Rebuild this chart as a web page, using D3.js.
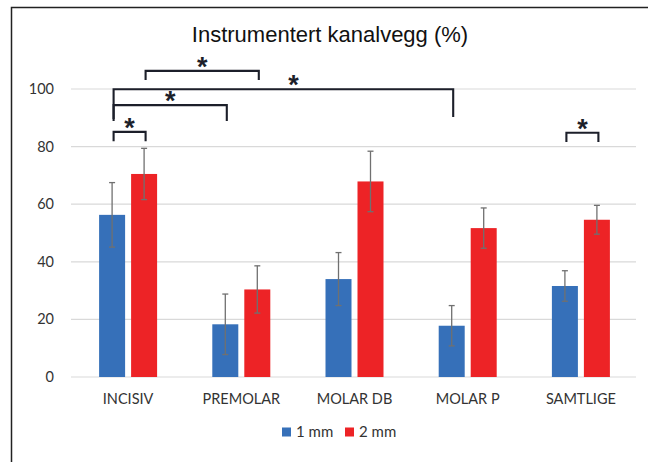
<!DOCTYPE html>
<html>
<head>
<meta charset="utf-8">
<title>Instrumentert kanalvegg</title>
<style>
  body { margin: 0; background: #fff; }
  svg { display: block; }
</style>
</head>
<body>
<svg id="chart" xmlns="http://www.w3.org/2000/svg"></svg>
<script src="https://cdn.jsdelivr.net/npm/d3@7"></script>
<script>
// data
const categories = ["INCISIV", "PREMOLAR", "MOLAR DB", "MOLAR P", "SAMTLIGE"];
const seriesNames = ["1 mm", "2 mm"];
const values1mm = [56.3, 18.3, 34.0, 17.8, 31.6];
const values2mm = [70.5, 30.4, 67.9, 51.7, 54.6];
const err1mm = [11.2, 10.5, 9.2, 7.0, 5.3];
const err2mm = [8.9, 8.2, 10.5, 7.0, 5.0];
const yTicks = [0, 20, 40, 60, 80, 100];
// significance brackets: [category, series] pairs, top level and leg ends in data units
const brackets = [
  { a: [0, 0], b: [0, 1], top: 85.1, legA: 81.9, legB: 81.9 },
  { a: [0, 0], b: [1, 0], top: 94.4, legA: 88.9, legB: 88.9 },
  { a: [0, 0], b: [3, 0], top: 99.9, legA: 89.6, legB: 90.3, starX: 0.53 },
  { a: [0, 1], b: [1, 1], top: 106.3, legA: 103.1, legB: 103.1 },
  { a: [4, 0], b: [4, 1], top: 84.8, legA: 81.6, legB: 81.6 }
];

const width = 648, height = 462;
const colors = ["#3670b9", "#ed2326"];
const font = "Lato, 'Open Sans', sans-serif";

const svg = d3.select("#chart")
    .attr("width", width)
    .attr("height", height);

svg.append("rect")
    .attr("width", width).attr("height", height).attr("fill", "#fff");

// outer frame (runs off the right and bottom edge)
svg.append("path")
    .attr("d", `M11.5,${height + 2}V7.5H${width + 2}`)
    .attr("fill", "none")
    .attr("stroke", "#222")
    .attr("stroke-width", 1.5);

const x0 = d3.scaleBand().domain(categories).range([71.5, 637.5]);
const x1 = d3.scaleBand().domain(seriesNames).range([-29, 29]).paddingInner(0.1875);
const y = d3.scaleLinear().domain([0, 100]).range([377, 89]);

const data = categories.map((c, i) => ({
  cat: c,
  vals: [
    { s: seriesNames[0], v: values1mm[i], e: err1mm[i] },
    { s: seriesNames[1], v: values2mm[i], e: err2mm[i] }
  ]
}));

// grid
svg.append("g")
  .selectAll("line")
  .data(yTicks)
  .join("line")
    .attr("x1", 71).attr("x2", 636)
    .attr("y1", d => y(d)).attr("y2", d => y(d))
    .attr("stroke", "#d9d9d9")
    .attr("stroke-width", 1.2);

// y labels
svg.append("g")
  .selectAll("text")
  .data(yTicks)
  .join("text")
    .attr("x", 54)
    .attr("y", d => y(d))
    .attr("dy", "0.35em")
    .attr("text-anchor", "end")
    .style("font", `14.5px ${font}`)
    .attr("fill", "#333")
    .text(d => d);

// bracket legs sit slightly right of the bar centres
const cx = (ci, si) => x0.bandwidth() / 2 + x0(categories[ci]) + x1(seriesNames[si]) + x1.bandwidth() / 2 + 1.5;

// bars
const group = svg.append("g")
  .selectAll("g")
  .data(data)
  .join("g")
    .attr("transform", d => `translate(${x0(d.cat) + x0.bandwidth() / 2},0)`);

group.selectAll("rect")
  .data(d => d.vals)
  .join("rect")
    .attr("x", d => x1(d.s))
    .attr("y", d => y(d.v))
    .attr("width", x1.bandwidth())
    .attr("height", d => y(0) - y(d.v))
    .attr("fill", (d, i) => colors[i]);

// error bars
const eb = group.selectAll("g.err")
  .data(d => d.vals)
  .join("g")
    .attr("class", "err")
    .attr("stroke", "#707070")
    .attr("stroke-width", 1.3);
eb.append("line")
    .attr("x1", d => x1(d.s) + x1.bandwidth() / 2)
    .attr("x2", d => x1(d.s) + x1.bandwidth() / 2)
    .attr("y1", d => y(d.v + d.e))
    .attr("y2", d => y(d.v - d.e));
[1, -1].forEach(sign => {
  eb.append("line")
      .attr("x1", d => x1(d.s) + x1.bandwidth() / 2 - 3)
      .attr("x2", d => x1(d.s) + x1.bandwidth() / 2 + 3)
      .attr("y1", d => y(d.v + sign * d.e))
      .attr("y2", d => y(d.v + sign * d.e));
});

// category labels
svg.append("g")
  .selectAll("text")
  .data(categories)
  .join("text")
    .attr("x", d => x0(d) + x0.bandwidth() / 2)
    .attr("y", 404)
    .attr("text-anchor", "middle")
    .style("font", `14.5px ${font}`)
    .attr("fill", "#333")
    .text(d => d);

// significance brackets
const br = svg.append("g")
  .selectAll("g")
  .data(brackets)
  .join("g");
br.append("path")
    .attr("d", d => {
      const xa = cx(d.a[0], d.a[1]), xb = cx(d.b[0], d.b[1]);
      return `M${xa},${y(d.legA)}V${y(d.top)}H${xb}V${y(d.legB)}`;
    })
    .attr("fill", "none")
    .attr("stroke", "#1c1f2a")
    .attr("stroke-width", 2.1);
br.append("text")
    .attr("x", d => {
      const xa = cx(d.a[0], d.a[1]), xb = cx(d.b[0], d.b[1]);
      return xa + (xb - xa) * (d.starX || 0.5);
    })
    .attr("y", d => y(d.top) + 5)
    .attr("text-anchor", "middle")
    .style("font", "bold 27px 'Liberation Sans', Arial, sans-serif")
    .attr("fill", "#1c1f2a")
    .text("*");

// title
svg.append("text")
    .attr("x", 330)
    .attr("y", 42)
    .attr("text-anchor", "middle")
    .style("font", "22px 'Liberation Sans', Arial, sans-serif")
    .attr("fill", "#111")
    .text("Instrumentert kanalvegg (%)");

// legend
const legend = svg.append("g")
  .selectAll("g")
  .data(seriesNames)
  .join("g")
    .attr("transform", (d, i) => `translate(${282 + i * 63},432)`);
legend.append("rect")
    .attr("x", 0).attr("y", -4.5)
    .attr("width", 9).attr("height", 9)
    .attr("fill", (d, i) => colors[i]);
legend.append("text")
    .attr("x", 14)
    .attr("dy", "0.35em")
    .style("font", `15px ${font}`)
    .attr("fill", "#333")
    .text(d => d);
</script>
</body>
</html>
